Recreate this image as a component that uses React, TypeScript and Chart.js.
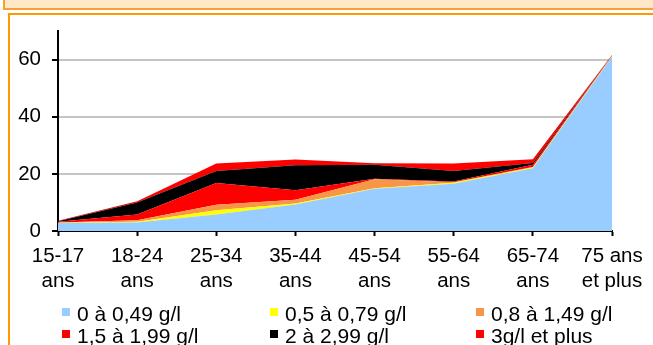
import React, { useEffect, useRef } from "react";
import { Chart, registerables } from "chart.js";

Chart.register(...registerables);

const categories: string[][] = [
  ["15-17", "ans"],
  ["18-24", "ans"],
  ["25-34", "ans"],
  ["35-44", "ans"],
  ["45-54", "ans"],
  ["55-64", "ans"],
  ["65-74", "ans"],
  ["75 ans", "et plus"],
];

const seriesNames = [
  "0 à 0,49 g/l",
  "0,5 à 0,79 g/l",
  "0,8 à 1,49 g/l",
  "1,5 à 1,99 g/l",
  "2 à 2,99 g/l",
  "3g/l et plus",
];

const s0_049 = [2.8, 3.0, 5.8, 9.3, 14.8, 16.5, 22.0, 61.0];
const s05_079 = [0.05, 0.2, 1.5, 0.3, 0.2, 0.4, 0.2, 0.1];
const s08_149 = [0.1, 0.6, 1.9, 1.3, 3.1, 0.2, 0.2, 0.2];
const s15_199 = [0.3, 2.0, 7.6, 3.35, 0.2, 0.2, 0.8, 0.1];
const s2_299 = [0.2, 4.2, 4.2, 8.75, 4.9, 3.7, 0.6, 0.1];
const s3plus = [0.15, 0.4, 2.6, 2.0, 0.5, 2.6, 1.3, 0.1];

const yTickValues = [0, 20, 40, 60];
const yMax = 70;

const seriesColors = ["#99CCFF", "#FFFF00", "#F79646", "#FF0000", "#000000", "#FF0000"];

const FONT = "'Liberation Sans', Arial, sans-serif";

export default function App() {
  const canvasRef = useRef<HTMLCanvasElement | null>(null);

  useEffect(() => {
    const canvas = canvasRef.current;
    if (!canvas) return;
    const allSeries = [s0_049, s05_079, s08_149, s15_199, s2_299, s3plus];
    const chart = new Chart(canvas, {
      type: "line",
      data: {
        labels: categories,
        datasets: allSeries.map((d, i) => ({
          label: seriesNames[i],
          data: d,
          backgroundColor: seriesColors[i],
          borderColor: seriesColors[i],
          borderWidth: 0,
          pointRadius: 0,
          pointHoverRadius: 0,
          tension: 0,
          fill: i === 0 ? "origin" : "-1",
        })),
      },
      options: {
        responsive: false,
        animation: false,
        events: [],
        layout: { padding: { left: 0, right: 41, top: 31, bottom: 0 } },
        plugins: {
          legend: { display: false },
          tooltip: { enabled: false },
          filler: { propagate: false },
        },
        scales: {
          x: {
            type: "category",
            offset: false,
            grid: {
              display: true,
              drawOnChartArea: false,
              drawTicks: true,
              tickLength: 5,
              tickColor: "#000000",
              tickWidth: 2,
            },
            border: { display: true, color: "#000000", width: 2 },
            ticks: {
              color: "#000000",
              font: { family: FONT, size: 20.5, lineHeight: 1.22 },
              padding: 8,
              maxRotation: 0,
              minRotation: 0,
              autoSkip: false,
            },
            afterFit: (scale: any) => {
              scale.height = 114;
            },
          },
          y: {
            stacked: true,
            min: 0,
            max: yMax,
            afterBuildTicks: (scale: any) => {
              scale.ticks = yTickValues.map((v) => ({ value: v }));
            },
            afterFit: (scale: any) => {
              scale.width = 58;
            },
            grid: {
              color: (ctx: any) => (ctx.tick && ctx.tick.value === 0 ? "rgba(0,0,0,0)" : "#C4C4C4"),
              lineWidth: 2,
              drawTicks: true,
              tickLength: 6,
              tickColor: "#000000",
              tickWidth: 2,
            },
            border: { display: true, color: "#000000", width: 2 },
            ticks: {
              color: "#000000",
              font: { family: FONT, size: 20.5 },
              padding: 11,
            },
          },
        },
      },
    } as any);
    return () => chart.destroy();
  }, []);

  return (
    <div
      style={{
        position: "fixed",
        left: 0,
        top: 0,
        width: 653,
        height: 345,
        overflow: "hidden",
        background: "#ffffff",
      }}
    >
      <div
        style={{
          position: "absolute",
          left: 3,
          top: -10,
          width: 700,
          height: 15.5,
          background: "#FFE8C8",
          border: "2px solid #F7A035",
        }}
      />
      <div
        style={{
          position: "absolute",
          left: 7.5,
          top: 12.5,
          width: 700,
          height: 400,
          background: "#ffffff",
          border: "2.5px solid #FF9900",
        }}
      />
      <canvas
        ref={canvasRef}
        width={653}
        height={345}
        style={{ position: "absolute", left: 0, top: 0, width: 653, height: 345 }}
      />
      <div
        style={{
          position: "absolute",
          left: 62,
          top: 303,
          display: "grid",
          gridTemplateColumns: "208px 206px 200px",
          gridAutoRows: "21.5px",
          fontFamily: FONT,
          fontSize: "21px",
          color: "#000",
          whiteSpace: "nowrap",
        }}
      >
        {seriesNames.map((name, i) => (
          <div key={name} style={{ display: "flex", alignItems: "center", lineHeight: "21.5px" }}>
            <span
              style={{
                display: "inline-block",
                width: 8,
                height: 8,
                background: seriesColors[i],
                marginRight: 7,
                marginTop: -3,
              }}
            />
            <span>{name}</span>
          </div>
        ))}
      </div>
    </div>
  );
}
